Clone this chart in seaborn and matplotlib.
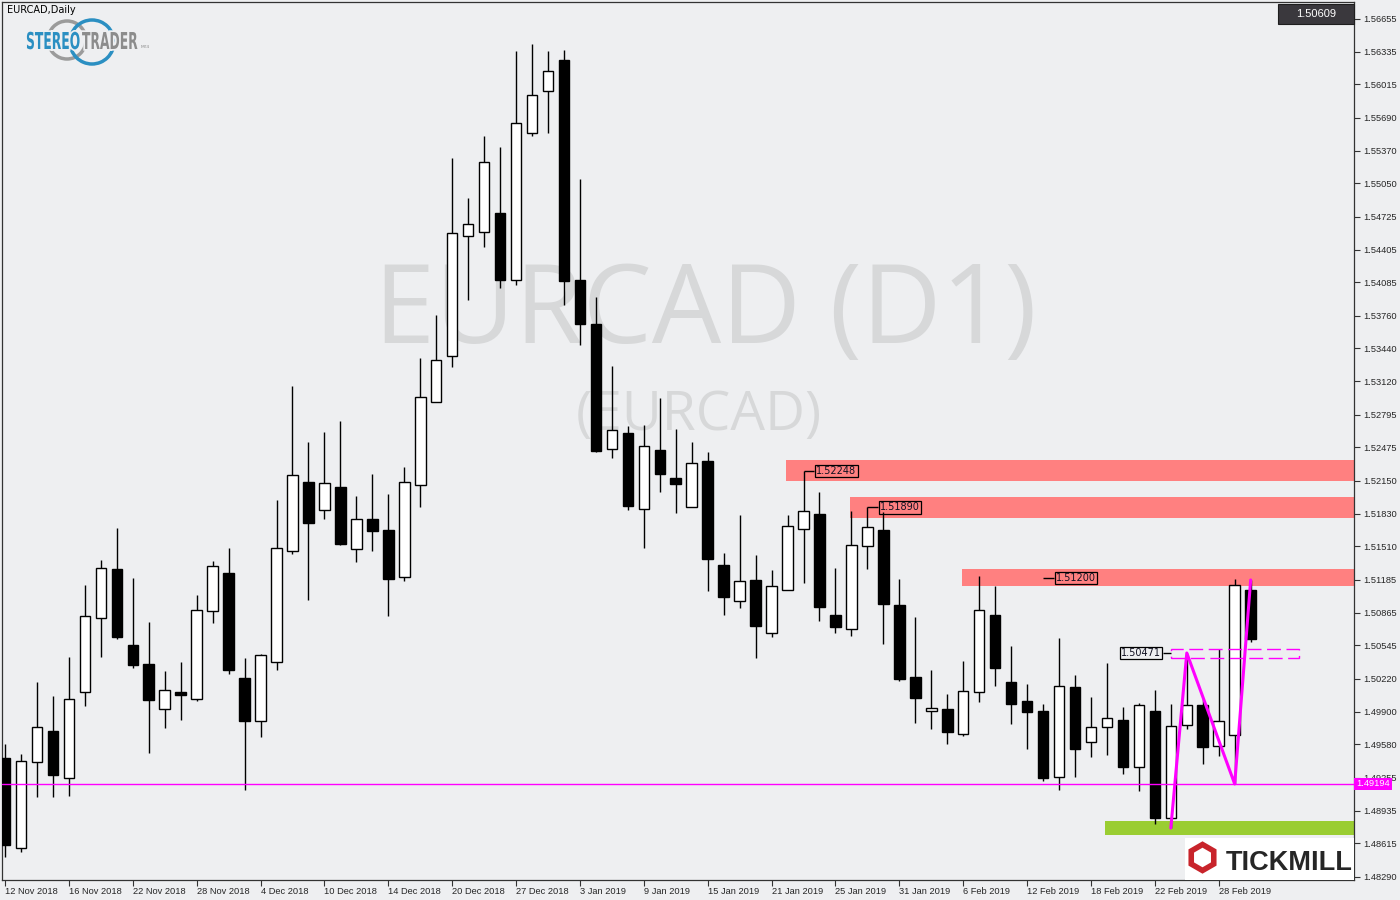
import matplotlib
matplotlib.use('Agg')
import matplotlib.pyplot as plt
import matplotlib.patheffects as pe
from matplotlib.patches import Rectangle, Arc, RegularPolygon, PathPatch
from matplotlib.textpath import TextPath
from matplotlib.font_manager import FontProperties
from matplotlib.transforms import Affine2D, IdentityTransform
import numpy as np
import pandas as pd
import seaborn as sns

# EURCAD 日線 K 棒資料 (2018-11-12 ~ 2019-03-04)
opens = [1.49447, 1.48570, 1.49408, 1.49710, 1.49252, 1.50091, 1.50812, 1.51290, 1.50549, 1.50364,
         1.49925, 1.50091, 1.50022, 1.50880, 1.51251, 1.50227, 1.49808, 1.50383, 1.51465, 1.52138,
         1.51865, 1.52089, 1.51485, 1.51777, 1.51670, 1.51212, 1.52109, 1.52918, 1.53366, 1.54536,
         1.54575, 1.54760, 1.54107, 1.55540, 1.55950, 1.56252, 1.54107, 1.53678, 1.52460, 1.52616,
         1.51875, 1.52450, 1.52177, 1.51894, 1.52343, 1.51329, 1.50978, 1.51183, 1.50666, 1.51085,
         1.51680, 1.51826, 1.50841, 1.50705, 1.51514, 1.51670, 1.50939, 1.50237, 1.49905, 1.49925,
         1.49681, 1.50091, 1.50841, 1.50188, 1.50003, 1.49905, 1.49262, 1.50139, 1.49603, 1.49749,
         1.49818, 1.49359, 1.49905, 1.48862, 1.49769, 1.49964, 1.49564, 1.49671, 1.51085]
highs = [1.49584, 1.49486, 1.50188, 1.50052, 1.50432, 1.51134, 1.51378, 1.51690, 1.51202, 1.50773,
         1.50295, 1.50383, 1.51036, 1.51368, 1.51495, 1.50422, 1.50461, 1.51963, 1.53074, 1.52528,
         1.52625, 1.52733, 1.52001, 1.52216, 1.52021, 1.52284, 1.53347, 1.53766, 1.55297, 1.54907,
         1.55511, 1.55404, 1.56340, 1.56408, 1.56340, 1.56349, 1.55092, 1.53941, 1.53269, 1.52684,
         1.52694, 1.52957, 1.52655, 1.52528, 1.52430, 1.51446, 1.51816, 1.51426, 1.51280, 1.51816,
         1.52248, 1.52040, 1.51300, 1.51855, 1.51890, 1.51846, 1.51192, 1.50822, 1.50305, 1.50071,
         1.50393, 1.51222, 1.51124, 1.50539, 1.50169, 1.49974, 1.50617, 1.50256, 1.50042, 1.50373,
         1.49944, 1.49983, 1.50110, 1.49974, 1.50471, 1.50032, 1.50510, 1.51192, 1.51183]
lows = [1.48482, 1.48531, 1.49067, 1.49067, 1.49077, 1.49954, 1.50432, 1.50607, 1.50325, 1.49496,
        1.49740, 1.49818, 1.50003, 1.50763, 1.50266, 1.49135, 1.49652, 1.50305, 1.51436, 1.50988,
        1.51777, 1.51524, 1.51358, 1.51465, 1.50832, 1.51173, 1.51894, 1.52918, 1.53259, 1.53912,
        1.54429, 1.54029, 1.54058, 1.55511, 1.55540, 1.53863, 1.53474, 1.52430, 1.52372, 1.51865,
        1.51495, 1.52040, 1.51836, 1.51894, 1.51075, 1.50841, 1.50910, 1.50422, 1.50627, 1.51085,
        1.51153, 1.50783, 1.50666, 1.50637, 1.51290, 1.50559, 1.50198, 1.49788, 1.49730, 1.49584,
        1.49662, 1.49993, 1.50149, 1.49779, 1.49535, 1.49223, 1.49135, 1.49262, 1.49457, 1.49476,
        1.49291, 1.49125, 1.48804, 1.48765, 1.49730, 1.49389, 1.49467, 1.49194, 1.50578]
closes = [1.48599, 1.49418, 1.49749, 1.49282, 1.50022, 1.50832, 1.51300, 1.50627, 1.50354, 1.50013,
          1.50110, 1.50061, 1.50890, 1.51319, 1.50305, 1.49808, 1.50451, 1.51495, 1.52206, 1.51738,
          1.52128, 1.51533, 1.51777, 1.51660, 1.51192, 1.52138, 1.52967, 1.53327, 1.54565, 1.54653,
          1.55258, 1.54107, 1.55638, 1.55911, 1.56145, 1.54097, 1.53678, 1.52440, 1.52645, 1.51904,
          1.52489, 1.52216, 1.52118, 1.52323, 1.51387, 1.51017, 1.51173, 1.50734, 1.51124, 1.51709,
          1.51855, 1.50919, 1.50724, 1.51524, 1.51699, 1.50949, 1.50217, 1.50032, 1.49935, 1.49701,
          1.50100, 1.50890, 1.50325, 1.49974, 1.49896, 1.49252, 1.50149, 1.49535, 1.49749, 1.49837,
          1.49359, 1.49964, 1.48862, 1.49759, 1.49964, 1.49554, 1.49808, 1.51134, 1.50609]

# 時間軸標籤（每 4 根 K 棒一個）
date_labels = ['12 Nov 2018', '16 Nov 2018', '22 Nov 2018', '28 Nov 2018', '4 Dec 2018',
               '10 Dec 2018', '14 Dec 2018', '20 Dec 2018', '27 Dec 2018', '3 Jan 2019',
               '9 Jan 2019', '15 Jan 2019', '21 Jan 2019', '25 Jan 2019', '31 Jan 2019',
               '6 Feb 2019', '12 Feb 2019', '18 Feb 2019', '22 Feb 2019', '28 Feb 2019']

# 右側價格刻度
price_ticks = ['1.56655', '1.56335', '1.56015', '1.55690', '1.55370', '1.55050', '1.54725',
               '1.54405', '1.54085', '1.53760', '1.53440', '1.53120', '1.52795', '1.52475',
               '1.52150', '1.51830', '1.51510', '1.51185', '1.50865', '1.50545', '1.50220',
               '1.49900', '1.49580', '1.49255', '1.48935', '1.48615', '1.48290']

# 阻力區（紅）與支撐區（綠）：起始 K 棒、下緣、上緣
resist_start = [48.9, 52.9, 59.9]
resist_low = [1.52148, 1.51787, 1.51124]
resist_high = [1.52352, 1.51992, 1.51290]
resist_label = [1.52248, 1.51890, 1.51200]
resist_label_from = [50, 54, 65]
support_start = 68.9
support_low = 1.48697
support_high = 1.48833

# 其他標記
last_price = 1.50609
magenta_level = 1.49194
box_level_low = 1.50425
box_level_high = 1.50507
box_label = 1.50471
zigzag_idx = [73, 74, 77, 78]
zigzag_price = [1.48765, 1.50471, 1.49194, 1.51183]

bg = '#EEEFF1'
sns.set_theme(style='white', rc={'axes.facecolor': bg, 'figure.facecolor': bg})
plt.rcParams['font.family'] = ['DejaVu Sans']

df = pd.DataFrame({'open': opens, 'high': highs, 'low': lows, 'close': closes})
df['i'] = np.arange(len(df))
df['up'] = df['close'] >= df['open']

fig = plt.figure(figsize=(14, 9), dpi=100)
ax = fig.add_axes([2 / 1400, 20 / 900, 1352 / 1400, 878 / 900])

x_max = 84.47
ax.set_xlim(-0.19, x_max)
ax.set_ylim(1.48258, 1.56818)

# 浮水印
ax.text(0.520, 0.6116, 'EURCAD (D1)', transform=ax.transAxes, fontsize=79, color='#D7D8D9',
        family='Open Sans', ha='center', va='baseline', zorder=0)
ax.text(0.5155, 0.5125, '(EURCAD)', transform=ax.transAxes, fontsize=39.5, color='#D7D8D9',
        family='Open Sans', ha='center', va='baseline', zorder=0)

# 紅色阻力區與綠色支撐區
for s, lo, hi in zip(resist_start, resist_low, resist_high):
    ax.fill_between([s, x_max], lo, hi, color='#FF8080', lw=0, zorder=1)
ax.fill_between([support_start, x_max], support_low, support_high, color='#9ACD32', lw=0, zorder=1)

# K 棒
ax.vlines(df['i'], df['low'], df['high'], color='black', lw=1.0, zorder=3)
body_low = np.minimum(df['open'], df['close'])
body_h = np.maximum(np.abs(df['close'] - df['open']), 0.00004)
ax.bar(df['i'], body_h, bottom=body_low, width=0.66,
       color=['white' if u else 'black' for u in df['up']],
       edgecolor='black', linewidth=1.0, zorder=4)

# 價格標籤
lab_font = dict(fontsize=7, color='#111122', family='DejaVu Sans', ha='left', va='center', zorder=6,
                bbox=dict(boxstyle='square,pad=0.12', fc='none', ec='black', lw=0.9))
for lvl, src in zip(resist_label, resist_label_from):
    ax.hlines(lvl, src, src + 0.66, color='black', lw=1.0, zorder=5)
    ax.text(src + 0.8, lvl, f'{lvl:.5f}', **lab_font)

ax.text(69.88, box_label, f'{box_label:.5f}', **lab_font)
ax.hlines(box_label, 72.5, 73, color='black', lw=1.0, zorder=5)
ax.add_patch(Rectangle((73, box_level_low), 8.0, box_level_high - box_level_low, fill=False,
                       ec='#FF00FF', lw=1.0, ls=(0, (10, 4)), zorder=5))

# 洋紅水平線與折線
ax.axhline(magenta_level, color='#FF00FF', lw=1.0, zorder=5)
sns.lineplot(x=zigzag_idx, y=zigzag_price, sort=False, color='#FF00FF', lw=2.2, ax=ax, zorder=7)

# 座標軸
ax.set_xticks(np.arange(0, 77, 4))
ax.set_xticklabels(date_labels, ha='left', fontsize=6.7, family='Liberation Sans')
ax.yaxis.tick_right()
ax.set_yticks([float(t) for t in price_ticks])
ax.set_yticklabels(price_ticks, fontsize=6.7, family='Liberation Sans')
ax.tick_params(axis='x', direction='out', length=4, width=0.8, color='#333333', pad=1, bottom=True)
ax.tick_params(axis='y', direction='out', length=4, width=0.8, color='#333333', pad=3, right=True)
ax.set_xlabel('')
ax.set_ylabel('')
for sp in ax.spines.values():
    sp.set_visible(True)
    sp.set_color('#333333')
    sp.set_linewidth(0.9)
ax.grid(False)

ax.text(1.0015, magenta_level, f'{magenta_level:.5f}', transform=ax.get_yaxis_transform(),
        ha='left', va='center', fontsize=6.7, color='white', family='Liberation Sans',
        bbox=dict(boxstyle='square,pad=0.2', fc='#FF00FF', ec='none'), clip_on=False, zorder=10)

# 右上角目前價格
fig.patches.append(Rectangle((1278 / 1400, 1 - 24 / 900), 76 / 1400, 20 / 900,
                             transform=fig.transFigure, fc='#3A383D', ec='#1E1E1E', lw=0.8))
fig.text(1316 / 1400, 1 - 14 / 900, f'{last_price:.5f}', ha='center', va='center',
         fontsize=8, color='white', family='Liberation Sans')

# 左上角標題與 StereoTrader 標誌（以像素座標繪製）
fig.text(7 / 1400, 1 - 10 / 900, 'EURCAD,Daily', ha='left', va='center', fontsize=7, color='black')
fig.patches.append(Arc((67, 900 - 40), 38, 38, theta1=0, theta2=360,
                       transform=IdentityTransform(), color='#9B9B9B', lw=2.5))
fig.patches.append(Arc((92, 900 - 42), 44, 44, theta1=0, theta2=360,
                       transform=IdentityTransform(), color='#2B8FC2', lw=2.5))
logo_prop = FontProperties(family='DejaVu Sans', weight='bold')
for word, x0, col in [('STEREO', 26, '#2B8FC2'), ('TRADER', 82, '#8C8C8C')]:
    tp = TextPath((0, 0), word, size=23.3, prop=logo_prop)
    path = Affine2D().scale(0.53, 1.0).translate(x0, 900 - 49).transform_path(tp)
    fig.patches.append(PathPatch(path, fc=col, ec='none', transform=IdentityTransform(),
                                 path_effects=[pe.withStroke(linewidth=2.5, foreground=bg)]))
fig.text(141 / 1400, 1 - 48 / 900, 'MT4', ha='left', va='baseline', fontsize=3.2, color='#8C8C8C')

# 右下角 Tickmill 標誌
ax.add_patch(Rectangle((1183 / 1352, 0), 171 / 1352, 42 / 878, transform=ax.transAxes,
                       fc='white', ec='none', zorder=8))
fig.patches.append(RegularPolygon((1202.5, 900 - 857.5), 6, radius=13, orientation=0,
                                  transform=IdentityTransform(), fill=False, ec='#C8242B', lw=4.0))
ax.text(1224 / 1352, 1 - 868 / 878, 'TICKMILL', transform=ax.transAxes, ha='left', va='baseline',
        fontsize=19.5, weight='bold', color='#262626', family='Liberation Sans', zorder=9)

plt.savefig('out.png', dpi=100, facecolor=bg)
